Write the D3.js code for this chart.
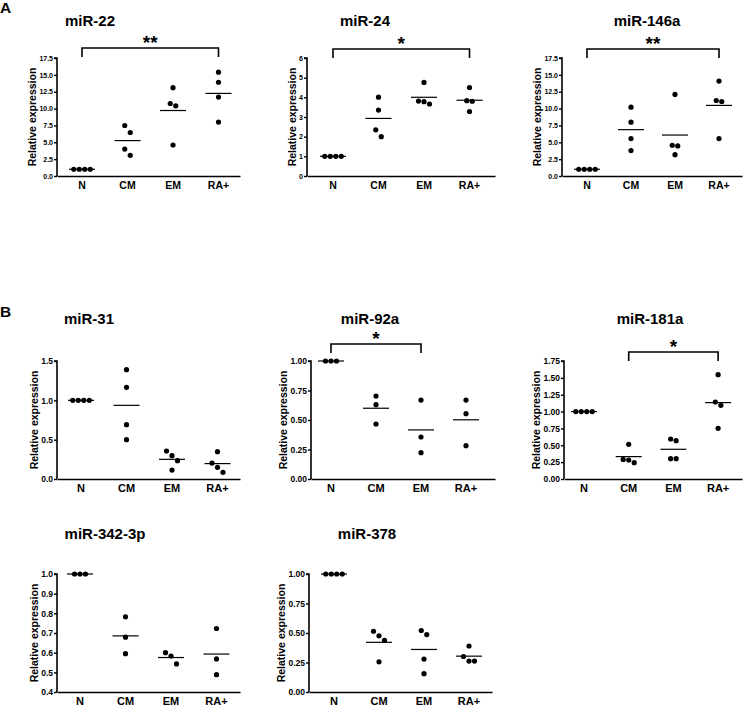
<!DOCTYPE html>
<html><head><meta charset="utf-8">
<script src="https://cdn.jsdelivr.net/npm/d3@7"></script>
<style>
body{margin:0;background:#fff}
text{font-family:"Liberation Sans",Arial,Helvetica,sans-serif;font-weight:bold;fill:#000}
</style>
</head><body>
<svg id="chart" width="745" height="710"></svg>
<script>
// ---------------- DATA ----------------
const categories = ["N", "CM", "EM", "RA+"];
const panelLetters = ["A", "B"];
const titles = ["miR-22", "miR-24", "miR-146a", "miR-31", "miR-92a", "miR-181a", "miR-342-3p", "miR-378"];
const yLabel = "Relative expression";

// values per category: N, CM, EM, RA+
const miR22   = [[1, 1, 1, 1], [7.49, 6.45, 4.0, 3.07], [13.1, 10.75, 10.4, 4.6], [15.4, 13.9, 11.7, 8.0]];
const miR24   = [[1, 1, 1, 1], [4.01, 3.35, 2.35, 2.0], [4.76, 3.81, 3.66, 3.78], [4.5, 3.83, 3.8, 3.28]];
const miR146a = [[1, 1, 1, 1], [10.2, 7.98, 5.55, 3.77], [12.1, 4.56, 4.46, 3.17], [14.08, 11.2, 11.05, 5.55]];
const miR31   = [[1, 1, 1, 1], [1.39, 1.165, 0.69, 0.5], [0.356, 0.297, 0.233, 0.114], [0.347, 0.203, 0.148, 0.085]];
const miR92a  = [[1, 1, 1], [0.703, 0.63, 0.466], [0.669, 0.356, 0.223], [0.669, 0.554, 0.282]];
const miR181a = [[1, 1, 1, 1], [0.514, 0.29, 0.282, 0.242], [0.593, 0.568, 0.301, 0.301], [1.547, 1.142, 1.092, 0.751]];
const miR342  = [[1, 1, 1], [0.782, 0.679, 0.595], [0.60, 0.583, 0.543], [0.723, 0.568, 0.488]];
const miR378  = [[1, 1, 1, 1], [0.515, 0.476, 0.437, 0.256], [0.521, 0.487, 0.279, 0.155], [0.39, 0.301, 0.262, 0.262]];
const seriesValues = [miR22, miR24, miR146a, miR31, miR92a, miR181a, miR342, miR378];

const yDomains = [[0, 17.5], [0, 6], [0, 17.5], [0, 1.5], [0, 1], [0, 1.75], [0.4, 1.0], [0, 1]];
const yTickValues = [
  [0, 2.5, 5, 7.5, 10, 12.5, 15, 17.5],
  [0, 1, 2, 3, 4, 5, 6],
  [0, 2.5, 5, 7.5, 10, 12.5, 15, 17.5],
  [0, 0.5, 1.0, 1.5],
  [0, 0.25, 0.5, 0.75, 1.0],
  [0, 0.25, 0.5, 0.75, 1.0, 1.25, 1.5, 1.75],
  [0.4, 0.5, 0.6, 0.7, 0.8, 0.9, 1.0],
  [0, 0.25, 0.5, 0.75, 1.0]
];
const yTickFormats = [".1f", "d", ".1f", ".1f", ".2f", ".2f", ".1f", ".2f"];

// significance brackets: panel index, from category, to category, label
const brackets = [
  {panel: 0, from: "N", to: "RA+", label: "**"},
  {panel: 1, from: "N", to: "RA+", label: "*"},
  {panel: 2, from: "N", to: "RA+", label: "**"},
  {panel: 4, from: "N", to: "EM", label: "*"},
  {panel: 5, from: "CM", to: "RA+", label: "*"}
];

// ---------------- LAYOUT ----------------
const layout = [
  {ax: 57,  top: 58,  bot: 176, first: 82,  step: 45.5, end: 240, tx: 90,  ty: 26,  by: 48,   tf: 7,   xf: 10.5},
  {ax: 307, top: 58,  bot: 176, first: 333, step: 45.5, end: 495, tx: 365, ty: 26,  by: 49,   tf: 7,   xf: 10.5},
  {ax: 562, top: 58,  bot: 176, first: 587, step: 44,   end: 742, tx: 647, ty: 26,  by: 49,   tf: 7,   xf: 10.5},
  {ax: 57,  top: 361, bot: 479, first: 81,  step: 45.5, end: 240, tx: 89,  ty: 324, by: null, tf: 8.5, xf: 11},
  {ax: 311, top: 361, bot: 479, first: 331, step: 45,   end: 495, tx: 370, ty: 324, by: 344,  tf: 8.5, xf: 11},
  {ax: 564, top: 361, bot: 479, first: 584, step: 44.7, end: 742, tx: 650, ty: 324, by: 352,  tf: 8.5, xf: 11},
  {ax: 57,  top: 574, bot: 692, first: 80,  step: 45.5, end: 240, tx: 105, ty: 539, by: null, tf: 8.5, xf: 11},
  {ax: 309, top: 574, bot: 692, first: 334, step: 45,   end: 492, tx: 367, ty: 539, by: null, tf: 8.5, xf: 11}
];
const letterPos = [{x: 0, y: 13}, {x: 0, y: 317}];

const svg = d3.select("#chart");

svg.selectAll("text.letter").data(panelLetters).enter().append("text")
  .attr("class", "letter")
  .attr("x", (d, i) => letterPos[i].x)
  .attr("y", (d, i) => letterPos[i].y)
  .style("font-size", "15.5px")
  .text(d => d);

const R = 2.6, SPREAD = 5.5, CLUSTER = 8, MEANW = 26;

titles.forEach((title, p) => {
  const L = layout[p];
  const g = svg.append("g");
  const x = d3.scalePoint().domain(categories)
    .range([L.first, L.first + L.step * (categories.length - 1)]);
  const y = d3.scaleLinear().domain(yDomains[p]).range([L.bot, L.top]);

  // title
  g.append("text").attr("x", L.tx).attr("y", L.ty)
    .attr("text-anchor", "middle").style("font-size", "15px").text(title);

  // y axis
  const yAxis = d3.axisLeft(y).tickValues(yTickValues[p])
    .tickFormat(d3.format(yTickFormats[p])).tickSize(3).tickPadding(1);
  const ya = g.append("g").attr("transform", `translate(${L.ax},0)`).call(yAxis);
  ya.select(".domain").attr("stroke", "#000").attr("stroke-width", 1.6).attr("d", `M-3,${L.top}H0V${L.bot}`);
  ya.selectAll(".tick line").attr("stroke", "#000").attr("stroke-width", 1.4);
  ya.selectAll(".tick text").style("font-size", L.tf + "px").style("font-family", "'Liberation Sans',Arial,sans-serif").style("font-weight", "bold");
  let maxW = 0;
  ya.selectAll(".tick text").each(function() { maxW = Math.max(maxW, this.getComputedTextLength()); });

  // x axis (no ticks)
  const xAxis = d3.axisBottom(d3.scaleLinear().range([L.ax, L.end])).tickValues([]).tickSizeOuter(0);
  const xa = g.append("g").attr("transform", `translate(0,${L.bot})`).call(xAxis);
  xa.select(".domain").attr("stroke", "#000").attr("stroke-width", 1.6);
  g.selectAll("text.xl").data(categories).enter().append("text")
    .attr("x", d => x(d)).attr("y", L.bot + 13)
    .attr("text-anchor", "middle").style("font-size", L.xf + "px").text(d => d);

  // y label
  const lx = L.ax - maxW - 7;
  g.append("text").attr("transform", `translate(${lx},${(L.top + L.bot) / 2}) rotate(-90)`)
    .attr("text-anchor", "middle").style("font-size", "10.5px").text(yLabel);

  // points with beeswarm-like spreading
  const vals = seriesValues[p];
  categories.forEach((c, ci) => {
    const arr = vals[ci].slice().sort((a, b) => b - a);
    const pts = [];
    let cluster = [];
    const flush = () => {
      const k = cluster.length;
      cluster.forEach((v, j) => pts.push({v, dx: (j - (k - 1) / 2) * SPREAD}));
      cluster = [];
    };
    arr.forEach(v => {
      if (cluster.length && Math.abs(y(cluster[cluster.length - 1]) - y(v)) >= CLUSTER) flush();
      cluster.push(v);
    });
    flush();
    g.selectAll(null).data(pts).enter().append("circle")
      .attr("cx", d => x(c) + d.dx).attr("cy", d => y(d.v)).attr("r", R).attr("fill", "#000");
    const m = d3.mean(vals[ci]);
    g.append("line").attr("x1", x(c) - MEANW / 2).attr("x2", x(c) + MEANW / 2)
      .attr("y1", y(m)).attr("y2", y(m)).attr("stroke", "#000").attr("stroke-width", 1.2);
  });

  // brackets
  brackets.filter(b => b.panel === p).forEach(b => {
    const x1 = x(b.from), x2 = x(b.to);
    g.append("path").attr("d", `M${x1},${L.by + 9}V${L.by}H${x2}V${L.by + 9}`)
      .attr("fill", "none").attr("stroke", "#000").attr("stroke-width", 1.6);
    g.append("text").attr("x", (x1 + x2) / 2).attr("y", L.by + 1)
      .attr("text-anchor", "middle").style("font-size", "19px").text(b.label);
  });
});
</script>
</body></html>
